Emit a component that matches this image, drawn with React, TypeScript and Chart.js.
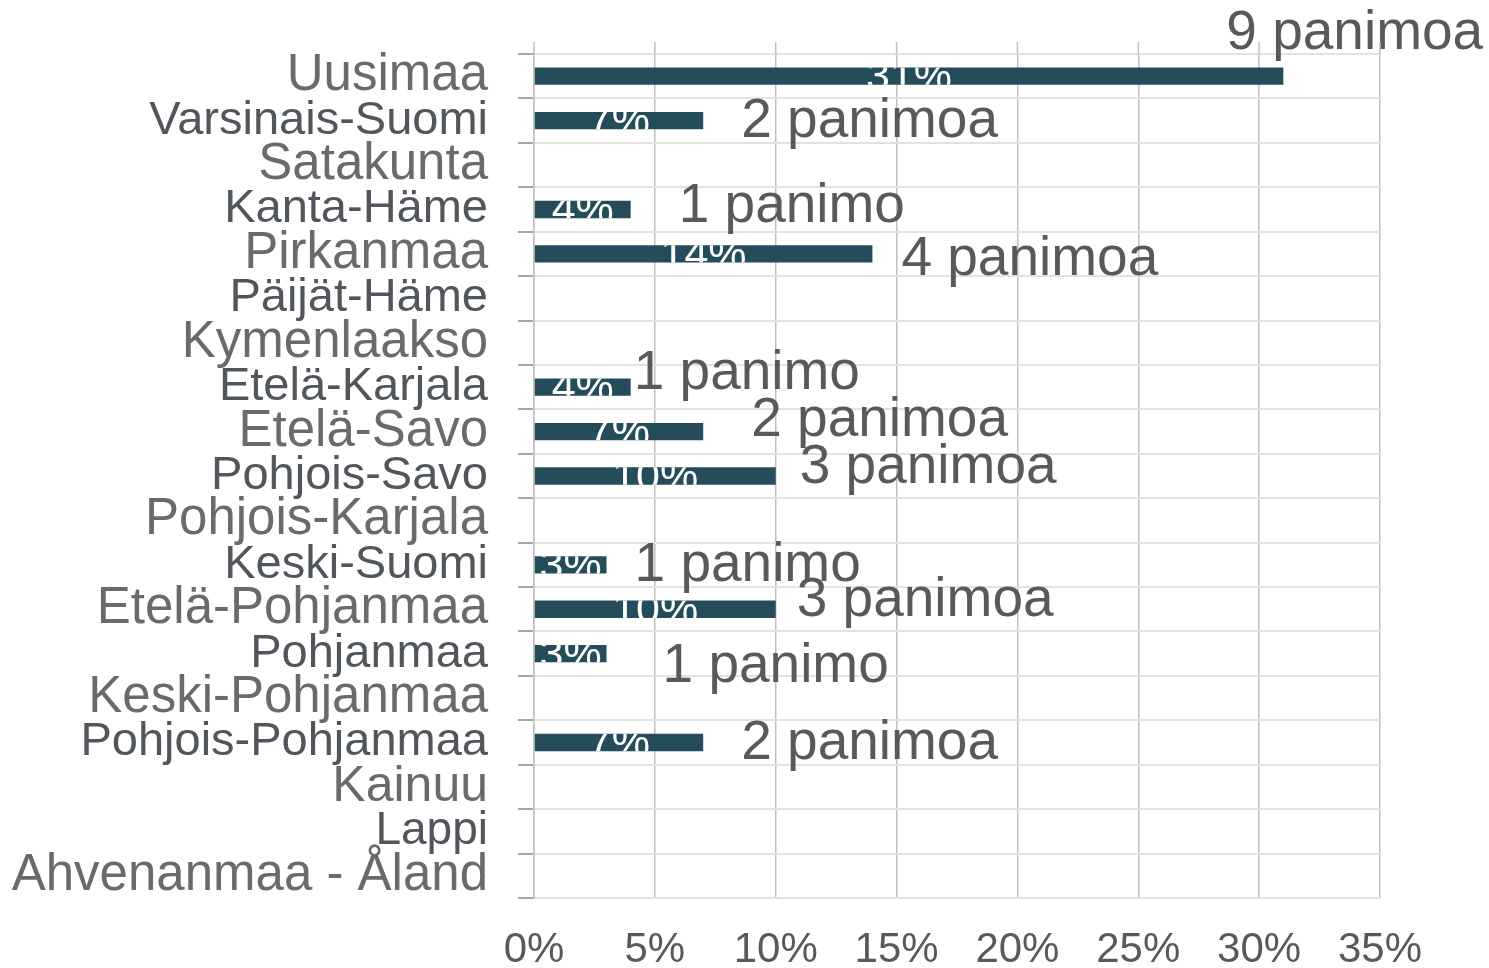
import React, { useEffect, useRef } from "react";
import { Chart, registerables } from "chart.js";

Chart.register(...registerables);

const categories = [
  "Uusimaa",
  "Varsinais-Suomi",
  "Satakunta",
  "Kanta-Häme",
  "Pirkanmaa",
  "Päijät-Häme",
  "Kymenlaakso",
  "Etelä-Karjala",
  "Etelä-Savo",
  "Pohjois-Savo",
  "Pohjois-Karjala",
  "Keski-Suomi",
  "Etelä-Pohjanmaa",
  "Pohjanmaa",
  "Keski-Pohjanmaa",
  "Pohjois-Pohjanmaa",
  "Kainuu",
  "Lappi",
  "Ahvenanmaa - Åland",
];

// share of breweries (%)
const shares = [31, 7, 0, 4, 14, 0, 0, 4, 7, 10, 0, 3, 10, 3, 0, 7, 0, 0, 0];

// number of breweries
const breweries = [9, 2, 0, 1, 4, 0, 0, 1, 2, 3, 0, 1, 3, 1, 0, 2, 0, 0, 0];

const xTicks = [0, 5, 10, 15, 20, 25, 30, 35];

// styling: category label size / tone (1 = darker, smaller)
const labelTone = [0, 1, 0, 1, 0, 1, 0, 1, 0, 1, 0, 1, 0, 1, 0, 1, 0, 1, 0];
const labelSize = [51, 47, 51, 47, 51, 47, 51, 47, 51, 47, 51, 47, 51, 47, 51, 47, 50, 46, 51];

// manual label nudges [dx from bar end, dy from bar centre] in px
const labelNudges: [number, number][] = [
  [-57, -42], [38, 1], [0, 0], [48, -3], [29, 6], [0, 0], [0, 0], [3, -13],
  [48, -11], [24, -8], [0, 0], [28, 1], [21, -8], [56, 13], [0, 0],
  [38, 1], [0, 0], [0, 0], [0, 0],
];

const FONT = "'Liberation Sans', Arial, sans-serif";
const BAR = "#244c5a";
const GREY = "#595959";

const breweryText = (n: number) => (n === 1 ? "1 panimo" : `${n} panimoa`);

const labelPlugin = {
  id: "barLabels",
  afterDatasetsDraw(chart: any) {
    const ctx = chart.ctx;
    const meta = chart.getDatasetMeta(0);
    meta.data.forEach((bar: any, i: number) => {
      const v = shares[i];
      if (!v) return;
      const { x, y, base, height } = bar.getProps(["x", "y", "base", "height"], true);
      // white percentage label, visible only on the bar
      ctx.save();
      ctx.beginPath();
      ctx.rect(base, y - height / 2, x - base, height);
      ctx.clip();
      ctx.fillStyle = "#ffffff";
      ctx.font = `43px ${FONT}`;
      ctx.textAlign = "center";
      ctx.textBaseline = "middle";
      ctx.fillText(`${v}%`, (base + x) / 2, y + 2);
      ctx.restore();
      // brewery count annotation
      const n = breweries[i];
      if (!n) return;
      const [dx, dy] = labelNudges[i];
      ctx.save();
      ctx.fillStyle = GREY;
      ctx.font = `55px ${FONT}`;
      ctx.textAlign = "left";
      ctx.textBaseline = "middle";
      ctx.fillText(breweryText(n), x + dx, y + dy);
      ctx.restore();
    });
  },
  afterDraw(chart: any) {
    // short extensions of vertical gridlines above the plot
    const ctx = chart.ctx;
    const xs = chart.scales.x;
    const top = chart.chartArea.top;
    ctx.save();
    ctx.strokeStyle = "#bfbfbf";
    ctx.lineWidth = 1.5;
    xTicks.forEach((t) => {
      const px = xs.getPixelForValue(t);
      ctx.beginPath();
      ctx.moveTo(px, top - 12);
      ctx.lineTo(px, top);
      ctx.stroke();
    });
    ctx.restore();
  },
};

export default function App() {
  const ref = useRef<HTMLCanvasElement | null>(null);
  useEffect(() => {
    if (!ref.current) return;
    const chart = new Chart(ref.current, {
      type: "bar",
      data: {
        labels: categories,
        datasets: [
          {
            data: shares,
            backgroundColor: BAR,
            borderWidth: 0,
            barPercentage: 0.39,
            categoryPercentage: 1,
          },
        ],
      },
      options: {
        indexAxis: "y",
        responsive: false,
        animation: false,
        layout: { padding: { top: 54, right: 109, left: 0, bottom: 0 } },
        plugins: { legend: { display: false }, tooltip: { enabled: false } },
        scales: {
          x: {
            min: 0,
            max: 35,
            afterBuildTicks: (s: any) => {
              s.ticks = xTicks.map((v) => ({ value: v }));
            },
            afterFit: (s: any) => {
              s.height = 70;
              s.paddingLeft = 0;
              s.paddingRight = 0;
            },
            ticks: {
              callback: (v: any) => `${v}%`,
              color: GREY,
              font: { family: FONT, size: 42 },
              padding: 27,
              maxRotation: 0,
              autoSkip: false,
            },
            grid: { color: "#bfbfbf", lineWidth: 1.5, drawTicks: false },
            border: { display: false },
          },
          y: {
            afterFit: (s: any) => {
              s.width = 534;
              s.paddingTop = 0;
              s.paddingBottom = 0;
            },
            ticks: {
              color: (c: any) => (labelTone[c.index] ? "#50565b" : "#6a6a6a"),
              font: (c: any) => ({ family: FONT, size: labelSize[c.index] ?? 48 }),
              padding: 30,
              autoSkip: false,
            },
            grid: {
              offset: true,
              color: "#e2e2e2",
              lineWidth: 2,
              tickColor: "#a6a6a6",
              tickLength: 16,
            },
            border: { display: true, color: "#bfbfbf", width: 1.5 },
          },
        },
      },
      plugins: [labelPlugin],
    });
    return () => chart.destroy();
  }, []);
  return (
    <div style={{ position: "fixed", left: 0, top: 0, width: 1489, height: 968, background: "#fff" }}>
      <canvas ref={ref} width={1489} height={968} />
    </div>
  );
}
